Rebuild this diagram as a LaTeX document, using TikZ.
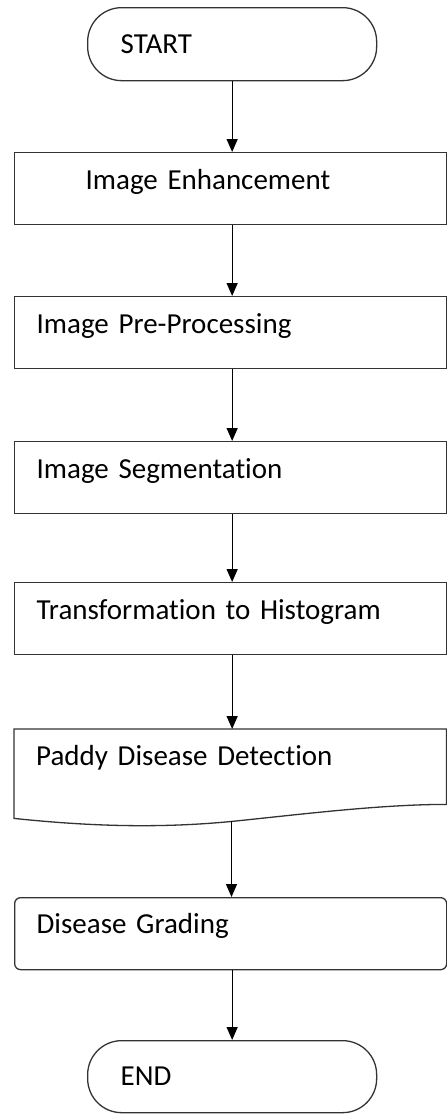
\documentclass[tikz,border=0pt]{standalone}
\usepackage{fontspec}
\setmainfont{Carlito}[Ligatures=NoCommon]
\usetikzlibrary{arrows.meta,calc}
\begin{document}
\begin{tikzpicture}[x=1pt,y=-1pt,
  every node/.style={font=\fontsize{29}{34}\selectfont},
  border/.style={draw=black!80, line width=1.3pt},
  box/.style={border, rectangle, inner xsep=22pt, inner ysep=0pt, text width=388pt, align=left, text height=37pt, text depth=35pt, anchor=north west},
  term/.style={border, rectangle, rounded corners=34pt, minimum height=73pt, inner xsep=33pt, inner ysep=0pt, text width=223pt, align=left, anchor=north west},
  flow/.style={draw=black, line width=1.3pt, arrows={-Triangle[length=13pt,width=11pt,fill=black]}}]
\useasboundingbox (0,0) rectangle (447,1114);

\node[term] (start) at (87,7) {START};
\node[box] (enh) at (14,152) {\hspace*{49pt}Image Enhancement};
\node[box] (pre) at (14,296) {Image Pre-Processing};
\node[box] (seg) at (14,441) {Image Segmentation};
\node[box] (trans) at (14,582) {Transformation to Histogram};
\node[anchor=north west, inner xsep=22pt, inner ysep=0pt, text width=388pt, align=left, text height=36pt, text depth=53pt] (paddy) at (14,729) {Paddy Disease Detection};
\draw[border] (paddy.north west) -- (paddy.north east) -- ($(paddy.south east)+(0,-14)$)
  .. controls ($(paddy.south east)+(-66,-14)$) and ($(paddy.south east)+(-146,-4)$) .. ($(paddy.south west)+(218,3)$)
  .. controls ($(paddy.south west)+(146,10)$) and ($(paddy.south west)+(76,8)$) .. (paddy.south west) -- cycle;
\coordinate (pb) at ($(paddy.south west)+(217.5,3)$);
\node[box, rounded corners=6pt, text height=36pt, text depth=36pt] (grade) at (14,897) {Disease Grading};
\node[term, minimum height=72pt] (stop) at (87,1040) {END};

\draw[flow] (start.south) -- (start.south |- enh.north);
\draw[flow] (enh.south -| start.south) -- (pre.north -| start.south);
\draw[flow] (pre.south -| start.south) -- (seg.north -| start.south);
\draw[flow] (seg.south -| start.south) -- (trans.north -| start.south);
\draw[flow] (trans.south -| start.south) -- (paddy.north -| start.south);
\draw[flow] (pb) -- (pb |- grade.north);
\draw[flow] (grade.south -| start.south) -- (stop.north);
\end{tikzpicture}
\end{document}
